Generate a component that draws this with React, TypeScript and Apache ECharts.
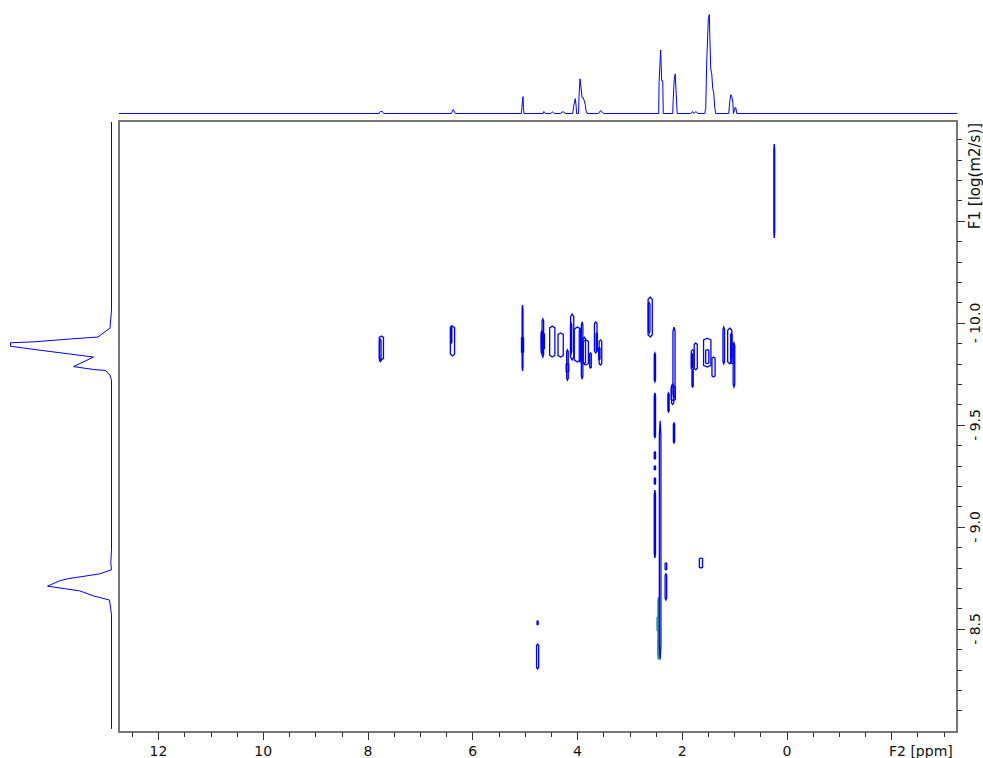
import React, { useEffect, useRef } from "react";
import * as echarts from "echarts";

const f2Labels = [12, 10, 8, 6, 4, 2, 0];
const f2Major = [12, 10, 8, 6, 4, 2, 0, -2];
const f2Minor = [12.5, 11.5, 11, 10.5, 9.5, 9, 8.5, 7.5, 7, 6.5, 5.5, 5, 4.5, 3.5, 3, 2.5, 1.5, 1, 0.5, -0.5, -1, -1.5, -2.5, -3];
const f1Labels = [-10, -9.5, -9, -8.5];
const f1Major = [-10.5, -10, -9.5, -9, -8.5];
const f1Minor = [-10.9, -10.8, -10.7, -10.6, -10.4, -10.3, -10.2, -10.1, -9.9, -9.8, -9.7, -9.6, -9.4, -9.3, -9.2, -9.1, -8.9, -8.8, -8.7, -8.6, -8.4, -8.3, -8.2, -8.1];

const topPpm = [12.755, 7.79, 7.765, 7.727, 7.7, 6.41, 6.373, 6.33, 5.07, 5.06, 5.04, 5.03, 5.02, 4.656, 4.64, 4.61, 4.51, 4.474, 4.436, 4.32, 4.3, 4.264, 4.226, 4.09, 4.07, 4.04, 4.025, 4.015, 3.977, 3.97, 3.95, 3.93, 3.91, 3.89, 3.87, 3.85, 3.835, 3.815, 3.595, 3.556, 3.5, 2.447, 2.44, 2.41, 2.39, 2.37, 2.36, 2.18, 2.17, 2.151, 2.132, 2.113, 2.103, 2.094, 1.835, 1.8, 1.778, 1.74, 1.7, 1.568, 1.549, 1.53, 1.5, 1.48, 1.472, 1.453, 1.434, 1.415, 1.396, 1.377, 1.358, 1.11, 1.09, 1.07, 1.05, 1.03, 1.02, 1.0, 0.99, 0.975, 0.956, -3.25];
const topInt = [0, 0, 2, 2, 0, 0, 4, 0, 0, 6, 17, 6, 0, 0, 2, 0, 0, 1.5, 0, 0, 1.5, 1.5, 0, 0, 8, 15, 8, 0, 0, 17, 35, 26, 16, 16, 13, 9, 3, 0, 0, 3, 0, 0, 32, 64, 33, 33, 0, 0, 14, 34, 40, 20, 20, 0, 0, 2, 0, 2, 0, 0, 5, 52, 95, 100, 80, 45, 40, 25, 21, 6, 0, 0, 12, 19, 17, 10, 0, 3, 6, 6, 0, 0];

const sideLog = [-10.985, -10.064, -9.975, -9.931, -9.922, -9.908, -9.903, -9.886, -9.868, -9.848, -9.833, -9.786, -9.772, -9.767, -9.745, -9.72, -8.888, -8.824, -8.79, -8.77, -8.746, -8.736, -8.71, -8.697, -8.687, -8.662, -8.642, -8.57, -8.01];
const sideInt = [0, 0, 1.5, 13.7, 40, 76, 101, 101, 74, 42, 18, 38, 18, 6, 1.7, 0, 0, 0.7, 0, 12, 44, 52, 64, 46, 32, 18, 2, 0, 0];

const contourPpm = [7.744, 7.765, 6.386, 6.41, 5.048, 5.048, 4.66, 4.68, 4.66, 4.48, 4.32, 4.19, 4.19, 4.1, 4.12, 4.0, 3.95, 3.91, 3.87, 3.84, 3.75, 3.65, 3.63, 3.56, 3.58, 2.61, 2.63, 2.52, 2.52, 2.52, 2.52, 2.52, 2.52, 2.42, 2.31, 2.31, 2.26, 2.155, 2.18, 2.155, 2.17, 1.8, 1.81, 1.8, 1.74, 1.52, 1.52, 1.4, 1.205, 1.09, 1.06, 1.04, 1.01, 1.64, 4.76, 4.76, 0.24];
const contourHalf = [0.04, 0.015, 0.04, 0.012, 0.008, 0.02, 0.015, 0.012, 0.03, 0.05, 0.05, 0.015, 0.025, 0.03, 0.012, 0.06, 0.015, 0.015, 0.025, 0.05, 0.015, 0.025, 0.012, 0.025, 0.012, 0.04, 0.015, 0.012, 0.012, 0.012, 0.012, 0.012, 0.012, 0.015, 0.015, 0.015, 0.012, 0.02, 0.02, 0.012, 0.04, 0.025, 0.012, 0.012, 0.03, 0.07, 0.03, 0.03, 0.015, 0.04, 0.012, 0.03, 0.015, 0.03, 0.01, 0.02, 0.008];
const contourTop = [-9.936, -9.92, -9.985, -9.985, -10.088, -9.931, -10.02, -9.96, -9.95, -9.985, -9.951, -9.868, -9.8, -10.044, -10.0, -9.98, -9.97, -10.005, -9.93, -9.917, -9.853, -10.005, -9.95, -9.917, -9.88, -10.127, -10.1, -9.853, -9.657, -9.368, -9.299, -9.24, -9.181, -9.52, -8.824, -8.77, -9.657, -9.98, -9.7, -9.51, -9.69, -9.868, -9.85, -9.77, -9.902, -9.925, -9.87, -9.833, -9.98, -9.975, -9.95, -9.9, -9.902, -8.848, -8.539, -8.426, -10.877];
const contourBottom = [-9.819, -9.81, -9.838, -9.9, -9.765, -9.853, -9.833, -9.85, -9.87, -9.833, -9.833, -9.72, -9.76, -9.819, -9.85, -9.809, -9.81, -9.725, -9.8, -9.794, -9.779, -9.853, -9.86, -9.794, -9.82, -9.931, -9.95, -9.711, -9.436, -9.333, -9.28, -9.21, -8.848, -8.35, -8.79, -8.642, -9.564, -9.632, -9.6, -9.412, -9.62, -9.77, -9.78, -9.686, -9.77, -9.784, -9.8, -9.735, -9.8, -9.8, -9.82, -9.8, -9.686, -8.799, -8.52, -8.304, -10.417];

const tealPpm = [2.45, 2.465, 2.45];
const tealHalf = [0.012, 0.014, 0.012];
const tealTop = [-8.657, -8.56, -8.45];
const tealBottom = [-8.35, -8.49, -8.37];

const BLUE = "#0000ff";
const FONT = "DejaVu Sans";

function blob(color: string, lineWidth: number) {
  return (_: any, api: any) => {
    const x = api.value(0), h = api.value(1), t = api.value(2), b = api.value(3);
    const e = (b - t) * 0.06;
    const pts = [
      api.coord([x, t]), api.coord([x - h, t + e]), api.coord([x - h, b - e]),
      api.coord([x, b]), api.coord([x + h, b - e]), api.coord([x + h, t + e]),
    ];
    return { type: "polygon", shape: { points: pts }, style: { fill: "none", stroke: color, lineWidth } };
  };
}

const hiddenAxis = { show: false };

export default function App() {
  const ref = useRef<HTMLDivElement>(null);
  useEffect(() => {
    document.body.style.margin = "0";
    const chart = echarts.init(ref.current!, undefined, { renderer: "svg" });
    const tick = (len: number, values: number[]) => ({
      show: true, length: len, customValues: values, lineStyle: { color: "#333", width: 1 },
    });
    const noLine = { show: false, onZero: false };
    const f2Range = { type: "value", min: -3.25, max: 12.755, inverse: true, splitLine: { show: false } };
    const f1Range = { type: "value", min: -10.99, max: -7.995, inverse: true, splitLine: { show: false } };
    chart.setOption({
      animation: false,
      backgroundColor: "#fff",
      grid: [
        { left: 119, top: 121, width: 838, height: 611, show: true, borderColor: "#777", borderWidth: 2, backgroundColor: "#fff" },
        { left: 119, top: 0, width: 838, height: 113.5 },
        { left: 0, top: 121, width: 111.5, height: 611 },
      ],
      xAxis: [
        {
          ...f2Range, gridIndex: 0, position: "bottom",
          axisLine: noLine, axisTick: tick(8, f2Major),
          axisLabel: { customValues: f2Labels, margin: 12, fontFamily: FONT, fontSize: 14, color: "#111", formatter: (v: number) => String(v) },
        },
        { ...f2Range, gridIndex: 0, position: "bottom", axisLine: noLine, axisTick: tick(5, f2Minor), axisLabel: { show: false } },
        { ...f2Range, gridIndex: 1, ...hiddenAxis },
        { type: "value", min: 0, max: 111.5, inverse: true, gridIndex: 2, ...hiddenAxis },
      ],
      yAxis: [
        {
          ...f1Range, gridIndex: 0, position: "right",
          axisLine: noLine, axisTick: tick(8, f1Major),
          axisLabel: {
            customValues: f1Labels, rotate: 90, margin: 11, fontFamily: FONT, fontSize: 14, color: "#111",
            formatter: (v: number) => "- " + Math.abs(v).toFixed(1),
          },
        },
        { ...f1Range, gridIndex: 0, position: "right", axisLine: noLine, axisTick: tick(5, f1Minor), axisLabel: { show: false } },
        { type: "value", min: 0, max: 101 * 113.5 / 100, gridIndex: 1, ...hiddenAxis },
        { ...f1Range, gridIndex: 2, ...hiddenAxis },
      ],
      series: [
        {
          type: "custom", xAxisIndex: 0, yAxisIndex: 0, clip: true, z: 3,
          renderItem: blob("#1fa08c", 1.4),
          encode: { x: 0, y: [2, 3] },
          data: tealPpm.map((p, i) => [p, tealHalf[i], tealTop[i], tealBottom[i]]),
        },
        {
          type: "custom", xAxisIndex: 0, yAxisIndex: 0, clip: true, z: 4,
          renderItem: blob(BLUE, 1.3),
          encode: { x: 0, y: [2, 3] },
          data: contourPpm.map((p, i) => [p, contourHalf[i], contourTop[i], contourBottom[i]]),
        },
        {
          type: "line", xAxisIndex: 2, yAxisIndex: 2, showSymbol: false, symbol: "none", z: 4,
          lineStyle: { color: BLUE, width: 1 },
          data: topPpm.map((p, i) => [p, topInt[i]]),
        },
        {
          type: "line", xAxisIndex: 3, yAxisIndex: 3, showSymbol: false, symbol: "none", z: 4,
          lineStyle: { color: BLUE, width: 1 },
          data: sideLog.map((l, i) => [sideInt[i], l]),
        },
      ],
      graphic: [
        { type: "text", x: 889, y: 751, style: { text: "F2 [ppm]", font: `14px '${FONT}'`, fill: "#111", textAlign: "left", textVerticalAlign: "middle" } },
        { type: "text", x: 975, y: 176, rotation: Math.PI / 2, style: { text: "F1 [log(m2/s)]", font: `15px '${FONT}'`, fill: "#111", textAlign: "center", textVerticalAlign: "middle" } },
      ],
    });
    return () => chart.dispose();
  }, []);
  return <div ref={ref} style={{ position: "fixed", left: 0, top: 0, width: 983, height: 758 }} />;
}
